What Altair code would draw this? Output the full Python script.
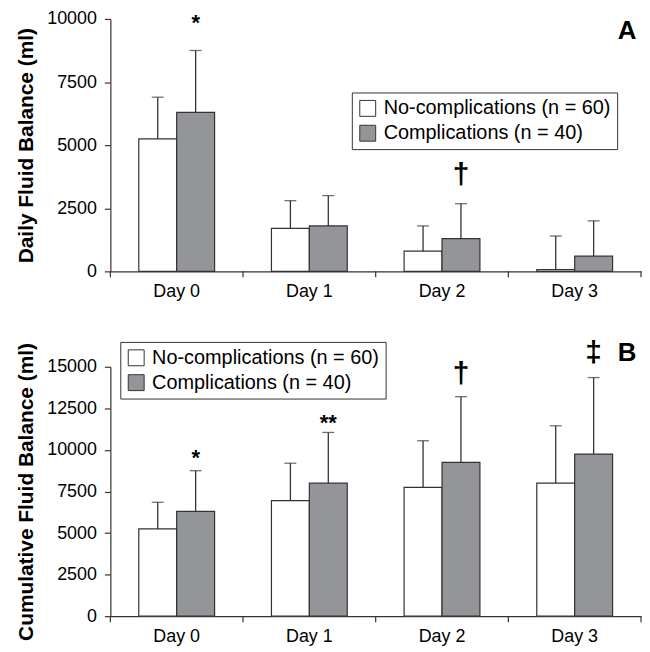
import altair as alt
import pandas as pd

days = ["Day 0", "Day 1", "Day 2", "Day 3"]
groups = ["No-complications (n = 60)", "Complications (n = 40)"]

daily_no_mean = [5250, 1700, 800, 70]
daily_no_sd = [1650, 1100, 1000, 1330]
daily_co_mean = [6300, 1800, 1300, 600]
daily_co_sd = [2450, 1200, 1380, 1400]

cum_no_mean = [5250, 6950, 7750, 8000]
cum_no_sd = [1600, 2250, 2800, 3450]
cum_co_mean = [6300, 8000, 9250, 9750]
cum_co_sd = [2450, 3050, 3950, 4600]

daily_marks_day = ["Day 0", "Day 2"]
daily_marks_sym = ["*", "\u2020"]
daily_marks_y = [9823, 3819]

cum_marks_day = ["Day 0", "Day 1", "Day 2", "Day 3"]
cum_marks_sym = ["*", "**", "\u2020", "\u2021"]
cum_marks_y = [9527, 11621, 14553, 15810]

FONT = "Liberation Sans"
DARK = "#333333"
GREY = "#939598"


def make_df(no_m, no_s, co_m, co_s):
    rows = []
    for i, d in enumerate(days):
        rows.append({"day": d, "group": groups[0], "mean": no_m[i], "sd": no_s[i]})
        rows.append({"day": d, "group": groups[1], "mean": co_m[i], "sd": co_s[i]})
    df = pd.DataFrame(rows)
    df["top"] = df["mean"] + df["sd"]
    return df


def panel(df, marks_df, ymax, yvals, ytitle, letter, letter_y, legx, legy, w, h):
    xenc = alt.X("day:N", sort=days,
                 scale=alt.Scale(paddingInner=0, paddingOuter=0),
                 axis=alt.Axis(title=None, labelAngle=0, ticks=False,
                               labelFontSize=18, labelFont=FONT, labelColor="black",
                               labelPadding=11, domainColor=DARK, domainWidth=1.2))
    xoff = alt.XOffset("group:N", sort=groups,
                       scale=alt.Scale(domain=groups, paddingOuter=0.75, paddingInner=0))
    yenc = alt.Y("mean:Q",
                 scale=alt.Scale(domain=[0, ymax], nice=False),
                 axis=alt.Axis(title=ytitle, values=yvals, format="d", grid=False,
                               tickSize=6, labelPadding=8, labelFontSize=18, labelFont=FONT,
                               labelColor="black", titleFont=FONT, titleFontSize=21,
                               titleFontWeight="bold", titleColor="black", titlePadding=10,
                               domainColor=DARK, tickColor=DARK, domainWidth=1.2, tickWidth=1.2))
    base = alt.Chart(df)
    bars = base.mark_bar(stroke=DARK, strokeWidth=1.2).encode(
        x=xenc, xOffset=xoff, y=yenc,
        color=alt.Color("group:N",
                        scale=alt.Scale(domain=groups, range=["white", GREY]),
                        legend=alt.Legend(orient="none", legendX=legx, legendY=legy, title=None,
                                          symbolType="square", symbolSize=256,
                                          symbolStrokeColor=DARK, symbolStrokeWidth=1,
                                          labelFontSize=20, labelFont=FONT, labelColor="black",
                                          labelLimit=400, strokeColor=DARK, fillColor="white",
                                          padding=6, rowPadding=5, labelOffset=6)),
    )
    err = base.mark_rule(color=DARK, strokeWidth=1.3).encode(
        x="day:N", xOffset="group:N", y="mean:Q", y2="top:Q")
    cap = base.mark_tick(color=DARK, thickness=1.3, size=12).encode(
        x="day:N", xOffset="group:N", y="top:Q")
    ticks_df = pd.DataFrame({"day": days})
    xticks = alt.Chart(ticks_df).mark_rule(color=DARK, strokeWidth=1.2).encode(
        x=alt.X("day:N", bandPosition=0), y=alt.value(h), y2=alt.value(h + 6))
    xend = alt.Chart(ticks_df).transform_filter(alt.datum.day == days[-1]).mark_rule(
        color=DARK, strokeWidth=1.2).encode(
        x=alt.X("day:N", bandPosition=1), y=alt.value(h), y2=alt.value(h + 6))
    stars = alt.Chart(marks_df).transform_filter("indexof(datum.sym, '*') >= 0").mark_text(
        font=FONT, fontSize=22, fontWeight="bold", color="black", baseline="middle").encode(
        x="day:N", xOffset="group:N", y="y:Q", text="sym:N")
    daggers = alt.Chart(marks_df).transform_filter("indexof(datum.sym, '*') < 0").mark_text(
        font=FONT, fontSize=30, fontWeight="bold", color="black", baseline="middle").encode(
        x="day:N", xOffset="group:N", y="y:Q", text="sym:N")
    lab = alt.Chart(pd.DataFrame({"t": [letter]})).mark_text(
        font=FONT, fontSize=26, fontWeight="bold", color="black",
        baseline="alphabetic", align="center").encode(
        x=alt.value(520), y=alt.value(letter_y), text="t:N")
    return alt.layer(bars, err, cap, xticks, xend, stars, daggers, lab).properties(width=w, height=h)


daily = make_df(daily_no_mean, daily_no_sd, daily_co_mean, daily_co_sd)
cum = make_df(cum_no_mean, cum_no_sd, cum_co_mean, cum_co_sd)
dm = pd.DataFrame({"day": daily_marks_day, "sym": daily_marks_sym, "y": daily_marks_y,
                   "group": groups[1]})
cm = pd.DataFrame({"day": cum_marks_day, "sym": cum_marks_sym, "y": cum_marks_y,
                   "group": groups[1]})

a = panel(daily, dm, 10000, [0, 2500, 5000, 7500, 10000], "Daily Fluid Balance (ml)",
          "A", 20, 243, 74, 534, 254)
b = panel(cum, cm, 15000, [0, 2500, 5000, 7500, 10000, 12500, 15000],
          "Cumulative Fluid Balance (ml)", "B", -6, 10, -25, 534, 251)

chart = alt.vconcat(a, b, spacing=38).resolve_scale(
    y="independent", color="independent").resolve_legend(color="independent").properties(
    padding={"left": 7, "top": 0, "right": 0, "bottom": 0}
).configure_view(stroke=None)

chart.save("out.html", embed_options={"renderer": "svg", "actions": False})
